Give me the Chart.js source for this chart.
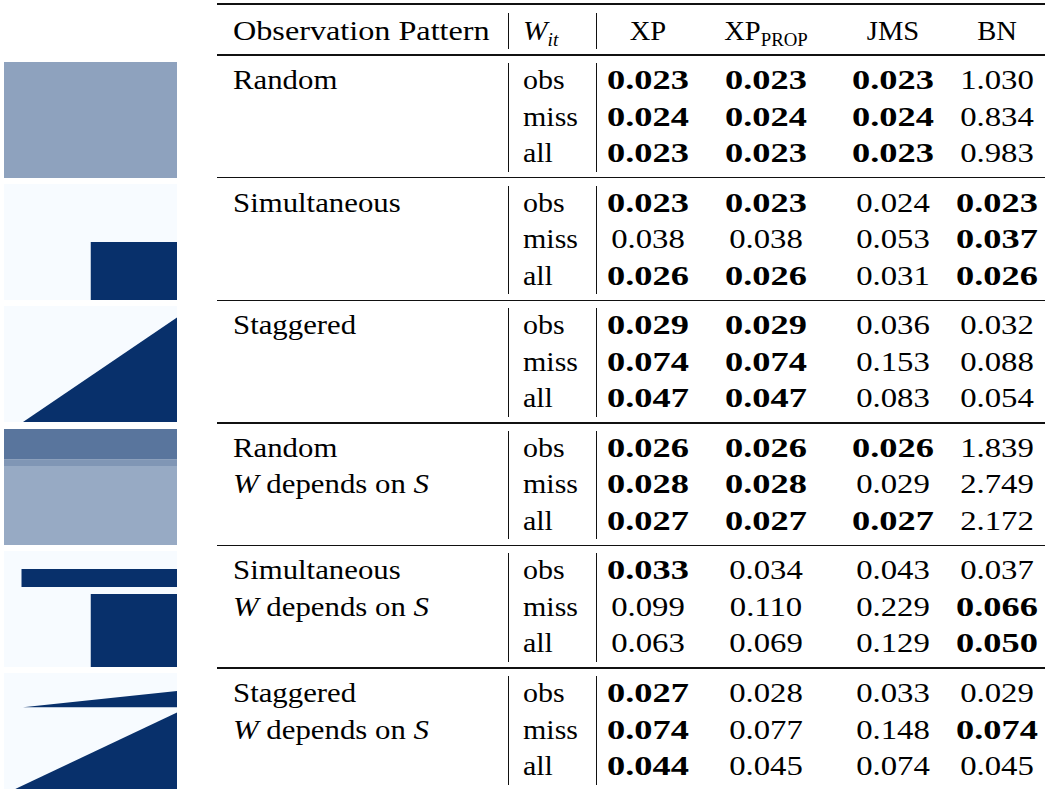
<!DOCTYPE html>
<html>
<head>
<meta charset="utf-8">
<script src="https://cdn.jsdelivr.net/npm/chart.js@4.4.0/dist/chart.umd.min.js"></script>
<style>
html,body{margin:0;padding:0;background:#fff;}
#page{position:relative;width:1050px;height:792px;overflow:hidden;font-family:"Liberation Serif","Times New Roman",serif;color:#000;}
.t{position:absolute;white-space:nowrap;line-height:normal;transform-origin:left center;}
.c{width:200px;text-align:center;transform-origin:center center;}
.rule{position:absolute;background:#111;}
.panel{position:absolute;}
.sub{font-size:0.66em;position:relative;top:0.3em;line-height:0;}
i{font-style:italic;}
</style>
</head>
<body>
<div id="page"></div>
<script>
// table content
const methods = ['XP', 'XP<span class="sub">PROP</span>', 'JMS', 'BN'];
const patternNames = ['Random', 'Simultaneous', 'Staggered', 'Random', 'Simultaneous', 'Staggered'];
const dependsOnS = [false, false, false, true, true, true];
const rowLabels = ['obs', 'miss', 'all'];

// RMSE per pattern: [obs, miss, all]
const xpVals     = [[0.023,0.024,0.023],[0.023,0.038,0.026],[0.029,0.074,0.047],[0.026,0.028,0.027],[0.033,0.099,0.063],[0.027,0.074,0.044]];
const xpPropVals = [[0.023,0.024,0.023],[0.023,0.038,0.026],[0.029,0.074,0.047],[0.026,0.028,0.027],[0.034,0.110,0.069],[0.028,0.077,0.045]];
const jmsVals    = [[0.023,0.024,0.023],[0.024,0.053,0.031],[0.036,0.153,0.083],[0.026,0.029,0.027],[0.043,0.229,0.129],[0.033,0.148,0.074]];
const bnVals     = [[1.030,0.834,0.983],[0.023,0.037,0.026],[0.032,0.088,0.054],[1.839,2.749,2.172],[0.037,0.066,0.050],[0.029,0.074,0.045]];

// observation pattern panels (x = share of periods, y = share of units, 0 at top)
const random1Edges = [0, 1];
const random1Density = [0.44];
const random4Edges = [0, 0.26, 0.32, 1];
const random4Density = [0.66, 0.5, 0.4];
const simX = [0.5, 1], simTop = [0.5, 0.5], simBottom = 1;
const stagX = [0.11, 1], stagTop = [1, 0.1], stagBottom = 1;
const simSBarX = [0.1, 1], simSBarTop = [0.155, 0.155], simSBarBottom = 0.31;
const simSBlockX = [0.5, 1], simSBlockTop = [0.37, 0.37], simSBlockBottom = 1;
const stagSWedgeX = [0.11, 1], stagSWedgeTop = [0.295, 0.155], stagSWedgeBottom = 0.295;
const stagSX = [0.065, 1], stagSTop = [1, 0.34], stagSBottom = 1;

const LIGHT = [247, 251, 255], DARK = [8, 48, 107];
const rgb = (c)=>`rgb(${c[0]},${c[1]},${c[2]})`;
const mix = (d)=>rgb(LIGHT.map((v,i)=>Math.round(v + (DARK[i]-v)*d)));

const page = document.getElementById('page');
const FS = 28;

function put(html, x, baseline, opts={}){
  const d = document.createElement('div');
  d.className = 't' + (opts.center ? ' c' : '');
  const fs = opts.fs || FS;
  d.style.fontSize = fs + 'px';
  d.style.left = (opts.center ? x - 100 : x) + 'px';
  d.style.top = (baseline - 0.891*fs) + 'px';
  if (opts.bold) d.style.fontWeight = 'bold';
  if (opts.sx) d.style.transform = `scaleX(${opts.sx})`;
  d.innerHTML = html;
  page.appendChild(d);
}
function rule(x, y, w, h){
  const r = document.createElement('div');
  r.className = 'rule';
  r.style.left = x + 'px'; r.style.top = y + 'px';
  r.style.width = w + 'px'; r.style.height = h + 'px';
  page.appendChild(r);
}

// layout
const colCenters = [648, 766, 893, 997];
const labelX = 233, wX = 523, bar1 = 508, bar2 = 596;
const ruleY = (g)=> 55 + 122.6*g;

// header
rule(217, 3, 828, 2);
put('Observation Pattern', labelX, 40, {sx: 1.15});
put('<i>W</i><span class="sub"><i>it</i></span>', wX, 40, {sx: 1.05});
methods.forEach((m,i)=> put(m, colCenters[i], 40, {center:true, sx: 1.02}));
rule(bar1, 13, 1, 36);
rule(bar2, 13, 1, 36);

const allVals = [xpVals, xpPropVals, jmsVals, bnVals];
for (let g = 0; g < 6; g++){
  const top = ruleY(g);
  rule(217, top - 0.7, 828, 1.5);
  rule(bar1, top + 8, 1, 122.6 - 14);
  rule(bar2, top + 8, 1, 122.6 - 14);
  const b0 = top + 34;
  put(patternNames[g], labelX, b0, {sx: 1.1});
  if (dependsOnS[g]) put('<i>W</i> depends on <i>S</i>', labelX, b0 + 36.5, {sx: 1.1});
  for (let r = 0; r < 3; r++){
    const base = b0 + 36.5*r;
    put(rowLabels[r], wX, base, {sx: 1.07});
    const row = allVals.map(v=>v[g][r]);
    const best = Math.min(...row);
    row.forEach((v,k)=>{
      const bold = v === best;
      put(v.toFixed(3), colCenters[k], base, {center:true, bold, sx: bold ? 1.3 : 1.17});
    });
  }
}

// panels
function shape(xs, tops, bottom, color){
  return {
    data: xs.map((x,i)=>({x, y: tops[i]})),
    fill: {value: bottom},
    backgroundColor: color,
    borderColor: 'transparent',
    borderWidth: 0,
    pointRadius: 0,
    tension: 0,
    order: 0
  };
}
function bands(edges, density){
  return density.map((d,i)=> shape([0,1], [edges[i], edges[i]], edges[i+1], mix(d)));
}
const background = ()=> Object.assign(shape([0,1],[0,0],1,rgb(LIGHT)), {order: 5});

const panelSets = [
  bands(random1Edges, random1Density),
  [shape(simX, simTop, simBottom, rgb(DARK))],
  [shape(stagX, stagTop, stagBottom, rgb(DARK))],
  bands(random4Edges, random4Density),
  [shape(simSBarX, simSBarTop, simSBarBottom, rgb(DARK)), shape(simSBlockX, simSBlockTop, simSBlockBottom, rgb(DARK))],
  [shape(stagSWedgeX, stagSWedgeTop, stagSWedgeBottom, rgb(DARK)), shape(stagSX, stagSTop, stagSBottom, rgb(DARK))]
];

panelSets.forEach((sets, i)=>{
  const wrap = document.createElement('div');
  wrap.className = 'panel';
  wrap.style.left = '4px';
  wrap.style.top = (62 + 122.2*i) + 'px';
  const cv = document.createElement('canvas');
  cv.width = 173; cv.height = 116;
  wrap.appendChild(cv);
  page.appendChild(wrap);
  new Chart(cv, {
    type: 'line',
    data: { datasets: sets.concat([background()]) },
    options: {
      responsive: false,
      animation: false,
      layout: { padding: 0 },
      plugins: { legend: { display: false }, tooltip: { enabled: false } },
      scales: {
        x: { type: 'linear', min: 0, max: 1, display: false },
        y: { type: 'linear', min: 0, max: 1, reverse: true, display: false }
      }
    }
  });
});
</script>
</body>
</html>
